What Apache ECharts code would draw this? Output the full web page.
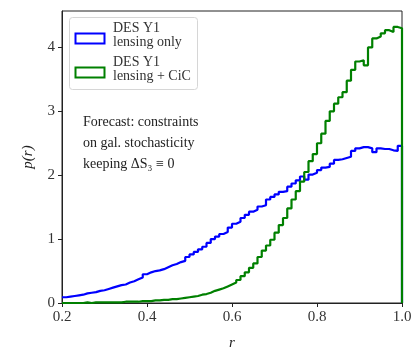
<!DOCTYPE html>
<html>
<head>
<meta charset="utf-8">
<script src="https://cdn.jsdelivr.net/npm/echarts@6/dist/echarts.min.js"></script>
<style>
html,body{margin:0;padding:0;background:#fff;}
#c{width:415px;height:356px;}
</style>
</head>
<body>
<div id="c"></div>
<script>
// Histogram bins: left edges from 0.20 with width 0.01 (80 bins up to 1.00)
const binStart = 0.20;
const binWidth = 0.01;
const lensingOnly = [
  0.09,0.10,0.11,0.12,0.13,0.15,0.16,0.17,0.19,0.20,
  0.22,0.24,0.26,0.28,0.29,0.32,0.34,0.37,0.40,0.45,
  0.48,0.50,0.51,0.53,0.56,0.59,0.61,0.64,0.66,0.72,
  0.76,0.80,0.84,0.88,0.94,1.00,1.04,1.08,1.11,1.18,
  1.24,1.27,1.33,1.38,1.43,1.46,1.51,1.53,1.62,1.66,
  1.70,1.74,1.75,1.82,1.87,1.92,1.98,1.93,2.01,2.04,
  2.08,2.12,2.13,2.18,2.24,2.25,2.27,2.29,2.38,2.42,
  2.44,2.44,2.42,2.36,2.42,2.41,2.41,2.39,2.38,2.46
];
const lensingCiC = [
  0.00,0.00,0.00,0.00,0.00,0.01,0.00,0.01,0.01,0.01,
  0.01,0.01,0.01,0.01,0.02,0.02,0.02,0.02,0.03,0.03,
  0.03,0.04,0.04,0.05,0.05,0.06,0.06,0.07,0.08,0.09,
  0.10,0.11,0.13,0.14,0.16,0.19,0.21,0.23,0.26,0.29,
  0.32,0.36,0.42,0.48,0.55,0.62,0.72,0.82,0.90,0.99,
  1.10,1.22,1.33,1.48,1.62,1.75,1.90,2.05,2.22,2.33,
  2.50,2.65,2.85,3.00,3.12,3.22,3.30,3.48,3.65,3.78,
  3.80,3.72,4.00,4.14,4.17,4.22,4.27,4.24,4.32,4.30
];
const xTicks = [0.2, 0.4, 0.6, 0.8, 1.0];
const yTicks = [0, 1, 2, 3, 4];
const legendLabels = [["DES Y1", "lensing only"], ["DES Y1", "lensing + CiC"]];
const noteLines = ["Forecast: constraints", "on gal. stochasticity", "keeping ΔS₃ ≡ 0"];

function stepData(vals) {
  const d = vals.map((v, i) => [binStart + binWidth * i, v]);
  const end = binStart + binWidth * vals.length;
  d.push([end, vals[vals.length - 1]]);
  d.push([end, 0]);
  return d;
}

const serif = "'Liberation Serif', 'DejaVu Serif', serif";
const chart = echarts.init(document.getElementById('c'), null, {renderer: 'canvas'});
const option = {
  animation: false,
  backgroundColor: '#fff',
  grid: {left: 62, right: 13, top: 11, bottom: 53, show: true, borderColor: '#222', borderWidth: 1, backgroundColor: 'transparent'},
  xAxis: {
    type: 'value', min: xTicks[0], max: xTicks[xTicks.length - 1], interval: 0.2,
    name: 'r', nameLocation: 'middle', nameGap: 33,
    nameTextStyle: {fontFamily: serif, fontStyle: 'italic', fontSize: 15, color: '#222'},
    axisLine: {show: true, lineStyle: {color: '#222', width: 1}},
    axisTick: {show: true, length: 4, lineStyle: {color: '#222'}},
    axisLabel: {fontFamily: serif, fontSize: 15, color: '#333', margin: 7, formatter: v => v.toFixed(1)},
    splitLine: {show: false}
  },
  yAxis: {
    type: 'value', min: 0, max: 4.57, interval: 1,
    name: 'p(r)', nameLocation: 'middle', nameGap: 26, nameRotate: 90,
    nameTextStyle: {fontFamily: serif, fontStyle: 'italic', fontSize: 15, color: '#222'},
    axisLine: {show: true, lineStyle: {color: '#222', width: 1}},
    axisTick: {show: true, length: 4, lineStyle: {color: '#222'}},
    axisLabel: {fontFamily: serif, fontSize: 15, color: '#333', margin: 7, showMaxLabel: false,
      formatter: v => (yTicks.indexOf(Math.round(v)) >= 0 && Math.abs(v - Math.round(v)) < 1e-6) ? String(Math.round(v)) : ''},
    splitLine: {show: false}
  },
  series: [
    {type: 'line', step: 'end', data: stepData(lensingOnly), showSymbol: false, symbol: 'none',
     lineStyle: {color: '#0000ff', width: 2.2}, z: 2},
    {type: 'line', step: 'end', data: stepData(lensingCiC), showSymbol: false, symbol: 'none',
     lineStyle: {color: '#008000', width: 2.2}, z: 3}
  ],
  graphic: [
    {type: 'rect', left: 69, top: 17, shape: {width: 128, height: 72, r: 3},
     style: {fill: 'rgba(255,255,255,0.8)', stroke: '#d6d6d6', lineWidth: 1}, z: 10},
    {type: 'rect', left: 73, top: 31, shape: {width: 29, height: 10},
     style: {fill: 'none', stroke: '#0000ff', lineWidth: 2}, z: 11},
    {type: 'rect', left: 73, top: 65, shape: {width: 29, height: 10},
     style: {fill: 'none', stroke: '#008000', lineWidth: 2}, z: 11},
    {type: 'text', left: 113, top: 21, style: {text: legendLabels[0].join('\n'), font: "14px " + serif, fill: '#333', lineHeight: 14}, z: 11},
    {type: 'text', left: 113, top: 55, style: {text: legendLabels[1].join('\n'), font: "14px " + serif, fill: '#333', lineHeight: 14}, z: 11},
    {type: 'text', left: 83, top: 112, style: {text: noteLines.join('\n'), font: "14px " + serif, fill: '#222', lineHeight: 21}, z: 11}
  ]
};
chart.setOption(option);
</script>
</body>
</html>
